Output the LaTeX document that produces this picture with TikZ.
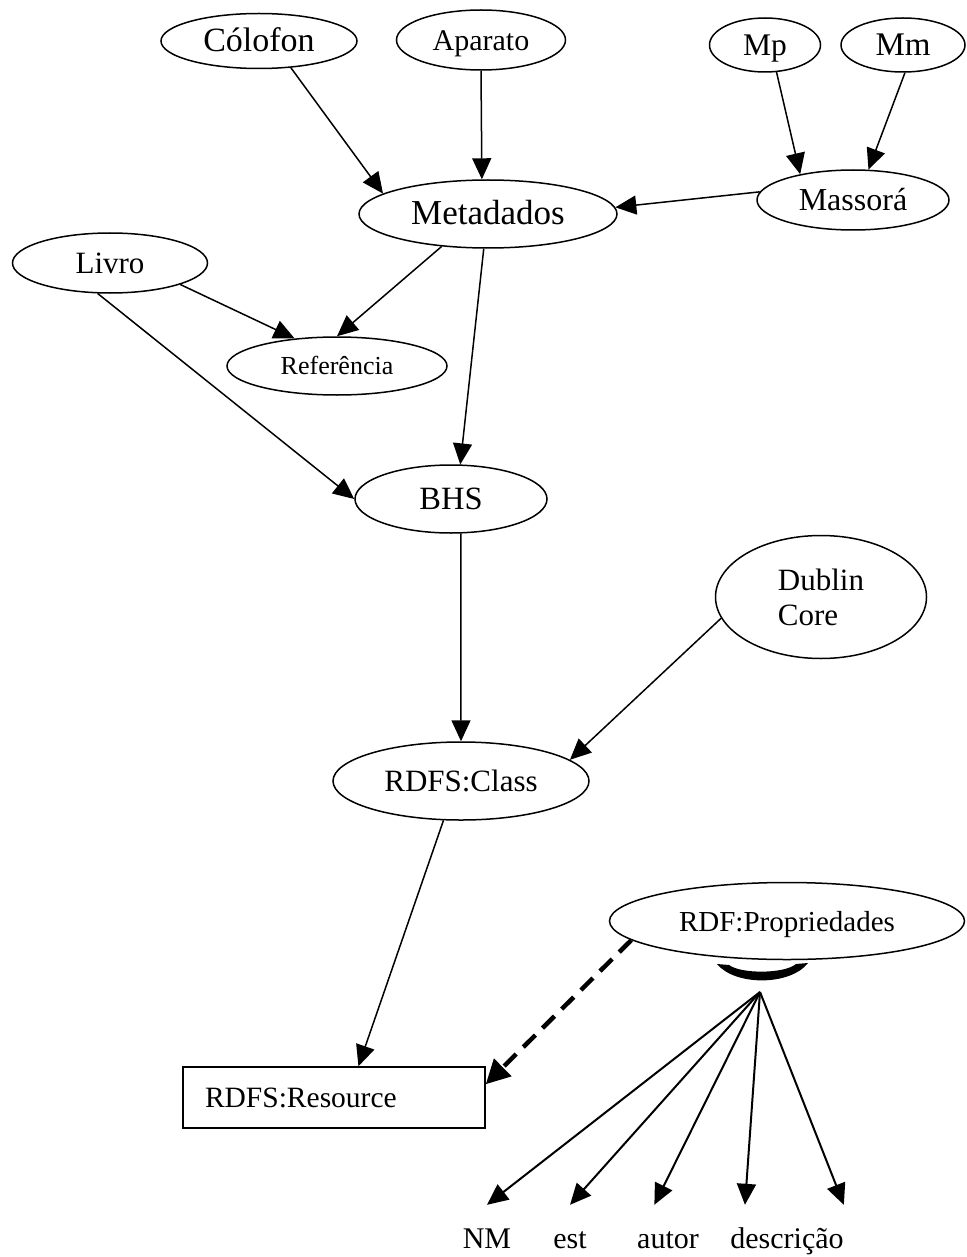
\documentclass[tikz,border=0pt]{standalone}
\usepackage{fontspec}
\setmainfont{Liberation Serif}
\usetikzlibrary{shapes.geometric,arrows.meta,calc}
\colorlet{penColor}{black}
\tikzset{>={Triangle[length=21pt,width=19pt]}}
\tikzset{
  bubble/.style={ellipse, draw=penColor, line width=1.5pt, inner sep=0pt, text height=23pt, text depth=2pt, font=\fontsize{31}{35}\selectfont},
  resbox/.style={rectangle, draw=penColor, line width=1.5pt, inner ysep=0pt, inner xsep=22pt, align=left, font=\fontsize{29.5}{33}\selectfont},
  propname/.style={inner xsep=0pt, inner ysep=22pt, text height=21pt, text depth=7pt, anchor=base, font=\fontsize{30}{34}\selectfont},
  link/.style={->, penColor, line width=1.5pt},
  fan/.style={->, penColor, line width=2pt},
}

\begin{document}
\begin{tikzpicture}[x=1pt,y=-1pt]
				\useasboundingbox (0,0) rectangle (966,1257);
				\node[bubble, minimum width=196pt, minimum height=55pt, font=\fontsize{34}{38}\selectfont] (colofon) at (259,41) {Cólofon};
				\node[bubble, minimum width=169pt, minimum height=60pt, font=\fontsize{30}{34}\selectfont] (aparato) at (481,40) {Aparato};
				\node[bubble, minimum width=111pt, minimum height=54pt, font=\fontsize{31.5}{35}\selectfont] (mp) at (765,45) {Mp};
				\node[bubble, minimum width=124pt, minimum height=54pt, font=\fontsize{33}{37}\selectfont] (mm) at (903,45) {Mm};
				\node[bubble, minimum width=192pt, minimum height=60pt, font=\fontsize{32}{36}\selectfont] (massora) at (853,200) {Massorá};
				\node[bubble, minimum width=258pt, minimum height=68pt, font=\fontsize{35}{39}\selectfont] (metadados) at (488,214) {Metadados};
				\node[bubble, minimum width=195pt, minimum height=60pt] (livro) at (110,263) {Livro};
				\node[bubble, minimum width=220pt, minimum height=58pt, text height=19pt, text depth=2pt, font=\fontsize{26}{30}\selectfont] (referencia) at (337,366) {Referência};
				\node[bubble, minimum width=192pt, minimum height=68pt, font=\fontsize{32.5}{36}\selectfont] (bhs) at (451,499) {BHS};
				\node[bubble, minimum width=211pt, minimum height=123pt, align=left, text height=, text depth=] (dublin) at (821,597) {Dublin\\Core};
				\node[bubble, minimum width=256pt, minimum height=78pt] (rdfsclass) at (461,781) {RDFS:Class};
				\node[bubble, minimum width=355pt, minimum height=77pt, font=\fontsize{29}{33}\selectfont] (rdfprop) at (787,921) {RDF:Propriedades};
				\node[resbox, text width=258pt, minimum height=61pt] (resource) at (334,1097.5) {RDFS:Resource};
				%\node[bubble] (extra) at (900,1100) {};
				\node[propname] (nm) at (487,1248) {NM};
				\node[propname] (est) at (570,1248) {est};
				\node[propname] (autor) at (668,1248) {autor};
				\node[propname] (descricao) at (787,1248) {descrição};
				\coordinate (fork) at (760,992);
				
				\draw[link] (colofon.-40) -- (metadados.169);
				\draw[link] (aparato.south) -- (metadados.100);
				\draw[link] (mp.-67) -- (massora.154);
				\draw[link] (mm.-86) -- (massora.63);
				\draw[link] (massora.175) -- (metadados.3);
				\draw[link] (metadados.215) -- (referencia.north);
				\draw[link] (metadados.-97) -- (bhs.75);
				\draw[link] (livro.-17) -- (referencia.147);
				\draw[link] (livro.-112) -- (bhs.west);
				\draw[link] (bhs.-74) -- (rdfsclass.north);
				\draw[link] (dublin.192) -- (rdfsclass.11);
				\draw[link] (rdfsclass.-114) -- (resource.52);
				\draw[->, penColor, line width=4.5pt, dash pattern=on 17pt off 10pt, >={Triangle[length=24pt,width=24pt]}] (rdfprop.187) -- (resource.5);
				
				% cardinality arc under RDF:Propriedades
				\fill[penColor] (717,964) .. controls (735,986) and (790,986) .. (808,963) -- (796,964) .. controls (784,974) and (741,974) .. (729,965) -- cycle;
				\draw[fan] (fork) -- (nm.north);
				\draw[fan] (fork) -- (est.north);
				\draw[fan] (fork) -- ($(autor.north west)!0.28!(autor.north east)$);
				\draw[fan] (fork) -- ($(descricao.north west)!0.13!(descricao.north east)$);
				\draw[fan] (fork) -- (descricao.north east);
				\end{tikzpicture}
\end{document}
